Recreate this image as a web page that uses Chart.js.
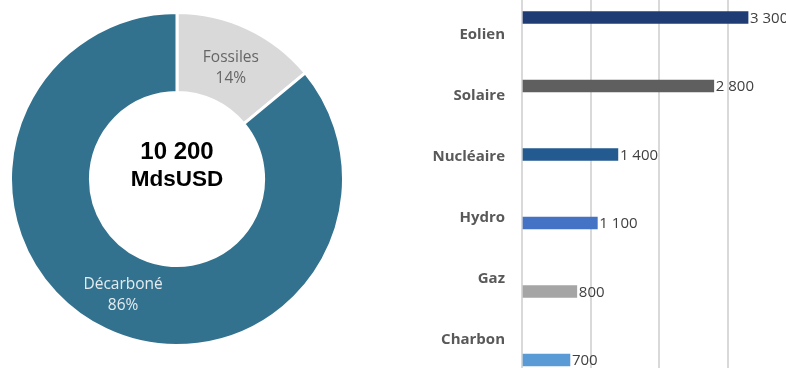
<!DOCTYPE html>
<html lang="fr">
<head>
<meta charset="utf-8">
<title>Investissements dans la production d'électricité</title>
<script src="https://cdn.jsdelivr.net/npm/chart.js@4.4.1/dist/chart.umd.min.js"></script>
<style>
  html, body { margin: 0; padding: 0; background: #fff; }
  body { width: 786px; height: 368px; position: relative; overflow: hidden; }
  #donutBox { position: absolute; left: 9px; top: 11px; width: 336px; height: 336px; }
  #barBox { position: absolute; left: 400px; top: 0; width: 396px; height: 368px; }
</style>
</head>
<body>
<div id="donutBox"><canvas id="donutChart"></canvas></div>
<div id="barBox"><canvas id="barChart"></canvas></div>

<script>
// répartition du total
const donutLabels = ['Fossiles', 'Décarboné'];
const donutValues = [14, 86];
const donutColors = ['#d9d9d9', '#33728f'];
const totalLines = ['10 200', 'MdsUSD'];

// détail par filière (MdsUSD)
const barLabels = ['Eolien', 'Solaire', 'Nucléaire', 'Hydro', 'Gaz', 'Charbon'];
const barValues = [3300, 2800, 1400, 1100, 800, 700];
const barColors = ['#1f3d74', '#5f5f5f', '#235a8f', '#4472c4', '#a5a5a5', '#5b9bd5'];
const xTicks = [0, 1000, 2000, 3000, 4000];

function fmt(v) {
  return String(v).replace(/\B(?=(\d{3})+(?!\d))/g, ' ');
}

// pas de marge automatique autour des axes
function noPadding(axis) {
  axis.paddingTop = 0;
  axis.paddingBottom = 0;
  axis.paddingLeft = 0;
  axis.paddingRight = 0;
}

// texte au centre + étiquettes des secteurs
const donutText = {
  id: 'donutText',
  afterDatasetsDraw(chart) {
    const ctx = chart.ctx;
    const area = chart.chartArea;
    const cx = (area.left + area.right) / 2;
    const cy = (area.top + area.bottom) / 2;
    ctx.save();
    ctx.textAlign = 'center';
    ctx.textBaseline = 'middle';
    ctx.fillStyle = '#000';
    ctx.font = 'bold 24px "Liberation Sans", Arial, sans-serif';
    ctx.fillText(totalLines[0], cx, cy - 27);
    ctx.font = 'bold 22.5px "Liberation Sans", Arial, sans-serif';
    ctx.fillText(totalLines[1], cx, cy + 1);

    ctx.font = '15.5px "Open Sans", sans-serif';
    chart.getDatasetMeta(0).data.forEach((arc, i) => {
      const p = arc.tooltipPosition();
      const dy = i === 0 ? 3 : 1;
      ctx.fillStyle = i === 0 ? '#666666' : '#e4ecf0';
      ctx.fillText(donutLabels[i], p.x, p.y - 10 + dy);
      ctx.fillText(donutValues[i] + '%', p.x, p.y + 11 + dy);
    });
    ctx.restore();
  }
};

new Chart(document.getElementById('donutChart'), {
  type: 'doughnut',
  data: {
    labels: donutLabels,
    datasets: [{
      data: donutValues,
      backgroundColor: donutColors,
      borderColor: '#ffffff',
      borderWidth: 3,
      hoverOffset: 0
    }]
  },
  options: {
    responsive: true,
    maintainAspectRatio: false,
    animation: false,
    events: [],
    cutout: '52%',
    layout: { padding: 0 },
    plugins: { legend: { display: false }, tooltip: { enabled: false } }
  },
  plugins: [donutText]
});

// valeurs au bout des barres
const barValueLabels = {
  id: 'barValueLabels',
  afterDatasetsDraw(chart) {
    const ctx = chart.ctx;
    ctx.save();
    ctx.font = '15px "Open Sans", sans-serif';
    ctx.fillStyle = '#404040';
    ctx.textAlign = 'left';
    ctx.textBaseline = 'middle';
    chart.getDatasetMeta(0).data.forEach((bar, i) => {
      ctx.fillText(fmt(barValues[i]), bar.x + 2, bar.y + 1);
    });
    ctx.restore();
  }
};

new Chart(document.getElementById('barChart'), {
  type: 'bar',
  data: {
    datasets: [{
      data: barValues.map((v, i) => ({ x: v, y: i })),
      backgroundColor: barColors,
      barThickness: 12,
      yAxisID: 'y'
    }]
  },
  options: {
    indexAxis: 'y',
    responsive: true,
    maintainAspectRatio: false,
    animation: false,
    events: [],
    layout: { padding: 0 },
    plugins: { legend: { display: false }, tooltip: { enabled: false } },
    scales: {
      x: {
        type: 'linear',
        min: xTicks[0],
        max: xTicks[xTicks.length - 1],
        afterBuildTicks: axis => { axis.ticks = xTicks.map(v => ({ value: v })); },
        afterFit: axis => { noPadding(axis); axis.height = 0; },
        ticks: { display: false },
        grid: { color: '#d9d9d9', lineWidth: 2, drawTicks: false },
        border: { display: false }
      },
      // position des barres
      y: {
        type: 'linear',
        position: 'left',
        reverse: true,
        offset: false,
        min: -0.2555,
        max: 5.117,
        afterFit: axis => { noPadding(axis); axis.width = 0; },
        ticks: { display: false },
        grid: { display: false, offset: false },
        border: { display: false }
      },
      // noms des filières
      yl: {
        type: 'linear',
        position: 'left',
        reverse: true,
        offset: false,
        min: -0.574,
        max: 5.459,
        afterBuildTicks: axis => { axis.ticks = barLabels.map((_, i) => ({ value: i })); },
        afterFit: axis => { noPadding(axis); axis.width = 122; },
        ticks: {
          callback: v => barLabels[v],
          font: { family: '"Open Sans", sans-serif', size: 15, weight: 'bold' },
          color: '#595959',
          padding: 9
        },
        grid: { display: false, offset: false },
        border: { display: false }
      }
    }
  },
  plugins: [barValueLabels]
});
</script>
</body>
</html>
